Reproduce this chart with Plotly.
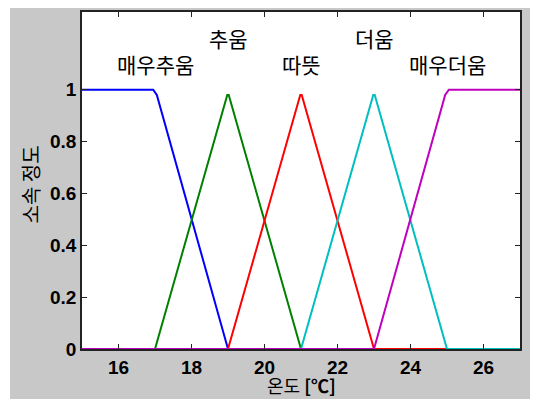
import plotly.graph_objects as go

# membership function vertices (temperature in °C, membership degree)
x_very_cold = [15, 16.95, 17.05, 19, 27]
y_very_cold = [1, 1, 0.98, 0, 0]
x_cold = [15, 17, 18.98, 19.02, 21, 27]
y_cold = [0, 0, 0.98, 0.98, 0, 0]
x_warm = [15, 19, 20.98, 21.02, 23, 27]
y_warm = [0, 0, 0.98, 0.98, 0, 0]
x_hot = [15, 21, 22.98, 23.02, 25, 27]
y_hot = [0, 0, 0.98, 0.98, 0, 0]
x_very_hot = [15, 23, 24.95, 25.05, 27]
y_very_hot = [0, 0, 0.98, 1, 1]

series_names = ["매우추움", "추움", "따뜻", "더움", "매우더움"]
series_colors = ["#0000ff", "#008000", "#ff0000", "#00bfbf", "#bf00bf"]
label_x = [17, 19, 21, 23, 25]
label_y = [1.1, 1.2, 1.1, 1.2, 1.1]

xs = [x_very_cold, x_cold, x_warm, x_hot, x_very_hot]
ys = [y_very_cold, y_cold, y_warm, y_hot, y_very_hot]

x_ticks = [16, 18, 20, 22, 24, 26]
y_ticks = [0, 0.2, 0.4, 0.6, 0.8, 1]
x_title = "온도 <b>[℃]</b>"
y_title = "소속 정도"

fig = go.Figure()
for name, c, xv, yv in zip(series_names, series_colors, xs, ys):
    fig.add_trace(go.Scatter(x=xv, y=yv, mode="lines", name=name,
                             line=dict(color=c, width=2), showlegend=False))

for name, lx, ly in zip(series_names, label_x, label_y):
    fig.add_annotation(x=lx, y=ly, text=name, showarrow=False,
                       font=dict(family="Noto Sans CJK KR", size=21, color="black"))

# page has an 8px body margin; layout compensates for it
FW, FH = 530, 391
L, T, W, H = 74, 4, 438, 337

fig.add_shape(type="rect", xref="paper", yref="paper",
              x0=(2 - L) / W, x1=(FW + 10 - L) / W,
              y0=-(FH + 10 - (T + H)) / H, y1=(T + H + 5) / H,
              fillcolor="#c8c8c8", line=dict(width=0), layer="below")
fig.add_shape(type="rect", xref="paper", yref="paper", x0=0, x1=1, y0=0, y1=1,
              fillcolor="white", line=dict(width=0), layer="below")

fig.add_annotation(xref="paper", yref="paper", x=0.5, y=0, yshift=-36,
                   xanchor="center", yanchor="middle", showarrow=False, text=x_title,
                   font=dict(family="Noto Sans CJK KR", size=18, color="black"))
fig.add_annotation(xref="paper", yref="paper", x=0, y=0.5, xshift=-52, yshift=-4,
                   xanchor="center", yanchor="middle", showarrow=False, text=y_title,
                   textangle=-90,
                   font=dict(family="Noto Sans CJK KR", size=20, color="black"))

axis_common = dict(showgrid=False, zeroline=False, showline=True, linecolor="#222",
                   linewidth=1.5, mirror="ticks", ticks="inside", ticklen=5,
                   tickcolor="#222", automargin=False,
                   tickfont=dict(family="Liberation Sans", size=19, color="black", weight="bold"))

fig.update_xaxes(range=[15, 27], tickvals=x_ticks, ticktext=[str(v) for v in x_ticks],
                 **axis_common)
fig.update_yaxes(range=[0, 1.3], tickvals=y_ticks, ticktext=["0", "0.2", "0.4", "0.6", "0.8", "1"],
                 **axis_common)

fig.update_layout(width=FW, height=FH, margin=dict(l=L, r=FW - L - W, t=T, b=FH - T - H),
                  paper_bgcolor="white", plot_bgcolor="white")

fig.write_html("out.html")
